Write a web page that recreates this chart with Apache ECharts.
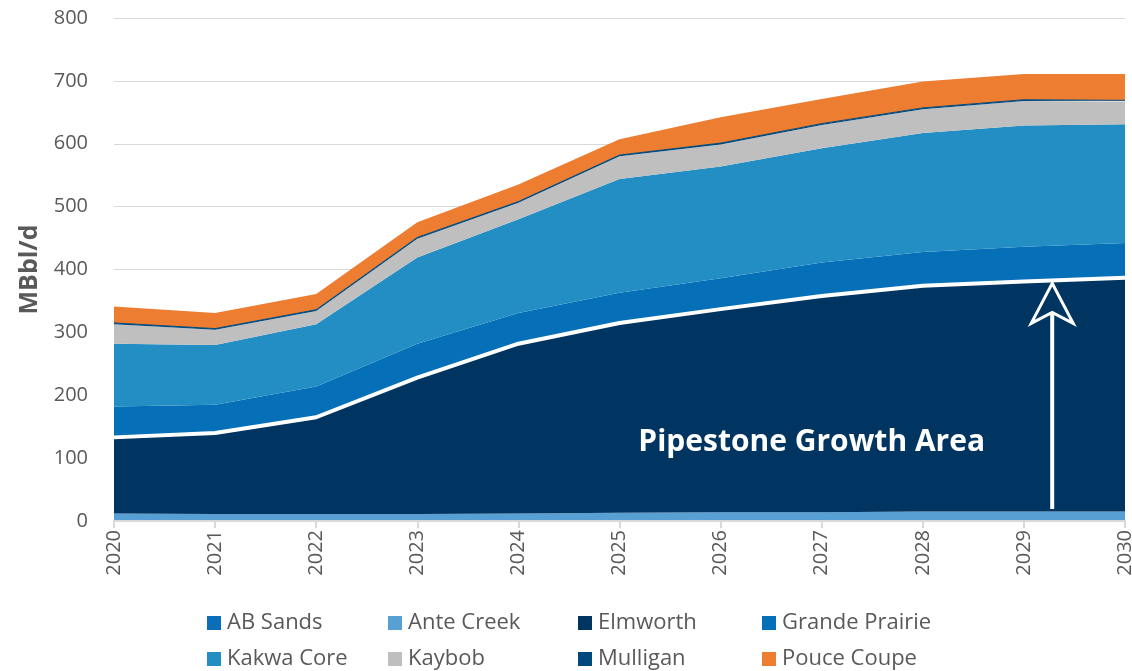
<!DOCTYPE html>
<html>
<head>
<meta charset="utf-8">
<script src="https://cdn.jsdelivr.net/npm/echarts@6/dist/echarts.min.js"></script>
<style>
  html, body { margin: 0; padding: 0; background: #fff; }
  #chart { width: 1132px; height: 671px; }
</style>
</head>
<body>
<div id="chart"></div>
<script>
var years = ['2020', '2021', '2022', '2023', '2024', '2025', '2026', '2027', '2028', '2029', '2030']
var yTicks = [0, 100, 200, 300, 400, 500, 600, 700, 800]

// MBbl/d
var abSands = [0, 0, 0, 0, 0, 0, 0, 0, 0, 0, 0]
var anteCreek = [12, 11, 11, 11, 12, 13, 14, 14, 15, 15, 15]
var elmworth = [121, 129, 154, 217, 270, 302, 323, 344, 359, 366, 372]
var grandePrairie = [49, 45, 49, 54, 49, 48, 49, 53, 54, 55, 55]
var kakwaCore = [100, 95, 99, 137, 149, 181, 178, 182, 189, 193, 189]
var kaybob = [31, 24, 21, 30, 26, 36, 35, 37, 38, 39, 36]
var mulligan = [2, 2, 2, 2, 2, 2, 2, 2, 2, 2, 2]
var pouceCoupe = [26, 25, 25, 24, 27, 25, 41, 39, 42, 41, 42]

var annotation = 'Pipestone Growth Area'
var arrowX = 9.28
var arrowFrom = 19
var arrowTo = 378

var font = 'Open Sans'
var grey = '#595959'

var seriesDefs = [
  { name: 'AB Sands', data: abSands, color: '#0a6fb8' },
  { name: 'Ante Creek', data: anteCreek, color: '#589fd3' },
  { name: 'Elmworth', data: elmworth, color: '#003561' },
  { name: 'Grande Prairie', data: grandePrairie, color: '#0570b8' },
  { name: 'Kakwa Core', data: kakwaCore, color: '#228ec3' },
  { name: 'Kaybob', data: kaybob, color: '#bfbfbf' },
  { name: 'Mulligan', data: mulligan, color: '#00497d' },
  { name: 'Pouce Coupe', data: pouceCoupe, color: '#ed7d31' }
]

var legendSpots = [
  [207, 612], [388, 612], [578, 612], [762, 612],
  [207, 648], [388, 648], [578, 648], [762, 648]
]

var chart = echarts.init(document.getElementById('chart'))

var series = seriesDefs.map(function (s) {
  var isElm = s.name === 'Elmworth'
  var isMul = s.name === 'Mulligan'
  return {
    name: s.name,
    type: 'line',
    stack: 'total',
    data: s.data,
    symbol: 'none',
    showSymbol: false,
    z: isElm ? 3 : 2,
    color: s.color,
    lineStyle: {
      width: isElm ? 4 : (isMul ? 1 : 0),
      color: isElm ? '#ffffff' : s.color
    },
    areaStyle: { color: s.color, opacity: 1 },
    emphasis: { disabled: true }
  }
})

var legends = seriesDefs.map(function (s, i) {
  return {
    data: [s.name],
    left: legendSpots[i][0],
    top: legendSpots[i][1],
    icon: 'rect',
    itemWidth: 14,
    itemHeight: 14,
    itemGap: 0,
    padding: 0,
    selectedMode: false,
    textStyle: { fontFamily: font, fontSize: 22, color: grey, padding: [0, 0, 0, 1] }
  }
})

chart.setOption({
  backgroundColor: '#ffffff',
  animation: false,
  textStyle: { fontFamily: font },
  legend: legends,
  grid: {
    left: 114,
    right: 7,
    top: 18,
    bottom: 150,
    outerBoundsMode: 'none'
  },
  xAxis: {
    type: 'category',
    boundaryGap: false,
    data: years,
    axisLine: { lineStyle: { color: '#d9d9d9', width: 2 } },
    axisTick: { show: true, length: 7, lineStyle: { color: '#d9d9d9', width: 2 } },
    axisLabel: {
      rotate: 90,
      margin: 9,
      fontFamily: font,
      fontSize: 20,
      color: grey
    },
    z: 10
  },
  yAxis: {
    type: 'value',
    min: yTicks[0],
    max: yTicks[yTicks.length - 1],
    interval: 100,
    name: 'MBbl/d',
    nameLocation: 'middle',
    nameGap: 72,
    nameTextStyle: { fontFamily: font, fontSize: 25, fontWeight: 'bold', color: grey },
    axisLine: { show: false },
    axisTick: { show: false },
    axisLabel: { margin: 26, fontFamily: font, fontSize: 20, color: grey },
    splitLine: { lineStyle: { color: '#d9d9d9', width: 1 } }
  },
  series: series
})

// annotation: white hollow arrow + label, placed through the axes
function drawAnnotation() {
  var p9 = chart.convertToPixel({ xAxisIndex: 0, yAxisIndex: 0 }, [9, arrowTo])
  var p10 = chart.convertToPixel({ xAxisIndex: 0, yAxisIndex: 0 }, [10, arrowFrom])
  var x = p9[0] + (p10[0] - p9[0]) * (arrowX - 9)
  var yTip = p9[1]
  var yBase = p10[1]
  var textPos = chart.convertToPixel({ xAxisIndex: 0, yAxisIndex: 0 }, [6.9, 125])
  chart.setOption({
    graphic: [
      {
        type: 'line',
        z: 100,
        shape: { x1: x, y1: yTip + 28, x2: x, y2: yBase },
        style: { stroke: '#ffffff', lineWidth: 4 }
      },
      {
        type: 'polygon',
        z: 101,
        shape: { points: [[x, yTip], [x - 21, yTip + 40], [x, yTip + 29], [x + 21, yTip + 40]] },
        style: { fill: '#003561', stroke: '#ffffff', lineWidth: 3, lineJoin: 'miter' }
      },
      {
        type: 'text',
        z: 101,
        x: textPos[0] - 10,
        y: textPos[1],
        style: {
          text: annotation,
          fill: '#ffffff',
          font: 'bold 30px "' + font + '"',
          align: 'center',
          verticalAlign: 'middle'
        }
      }
    ]
  })
}
drawAnnotation()
</script>
</body>
</html>
